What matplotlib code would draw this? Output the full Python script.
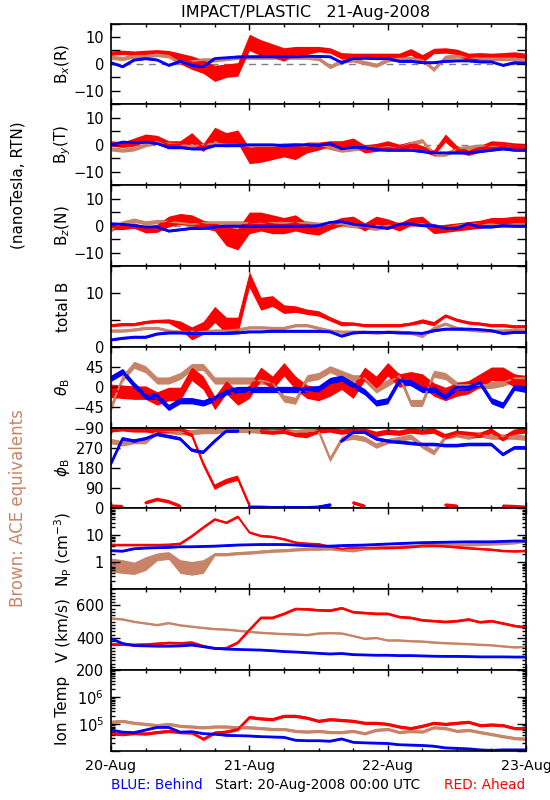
import numpy as np
import matplotlib
matplotlib.use('Agg')
import matplotlib.pyplot as plt
from matplotlib.ticker import MultipleLocator, FuncFormatter, LogLocator, NullFormatter

nan = np.nan

# horas desde 20-Aug-2008 00:00 UTC, amostras a cada 2 h
horas = list(range(0, 73, 2))
dias = ['20-Aug', '21-Aug', '22-Aug', '23-Aug']

# Bx (R)
bx_red = [4.0, 4.3, 4.0, 4.3, 4.5, 4.0, 2.0, 0.5, -1.0, -3.5, -2.5, -2.0, 8.0, 6.0, 5.0, 3.5, 5.0, 5.0, 5.5,
          5.0, 3.0, 3.0, 3.0, 3.0, 3.0, 3.0, 4.5, 2.0, 4.8, 5.0, 4.5, 2.5, 3.0, 3.0, 3.0, 3.5, 3.0]
bx_red_sp = [0.8, 0.8, 0.8, 0.8, 0.8, 1.0, 2.0, 2.5, 2.5, 3.0, 2.5, 2.5, 3.0, 3.0, 2.5, 2.5, 1.5, 1.5, 1.0,
             1.0, 1.2, 1.0, 1.0, 1.0, 1.0, 1.0, 1.2, 1.5, 1.0, 1.0, 1.0, 1.5, 1.2, 1.0, 1.2, 1.0, 1.0]
bx_brown = [2.5, 2.0, 3.0, 3.0, 3.5, 3.0, 0.5, 1.0, 1.5, 1.5, 2.0, 2.5, 2.5, 2.5, 2.5, 2.5, 2.5, 2.5, 2.0,
            -1.0, 1.0, 1.5, 0.5, -0.5, 1.5, 2.0, 2.0, 1.5, -2.0, 2.5, 3.0, 2.5, 2.0, 2.0, 2.0, 2.0, 1.5]
bx_blue = [0.5, -1.0, 1.5, 2.0, 1.5, -0.5, 1.0, -0.5, -1.0, 2.0, 2.3, 2.6, 2.7, 2.7, 2.7, 2.7, 2.7, 2.8, 2.8,
           2.7, 0.5, 2.0, 2.2, 2.0, 2.0, 1.0, 1.0, 0.5, 0.5, 1.0, 1.2, 1.2, 0.8, 0.8, -0.5, 0.5, 0.3]

# By (T)
by_red = [0.5, 0.0, 1.0, 2.5, 2.0, 0.0, 0.0, 2.5, -1.0, 4.0, 2.0, 3.0, -4.0, -3.5, -3.0, -2.0, -3.0, -1.0, -0.5,
          0.5, 0.0, 1.0, -1.5, -1.0, 0.0, -1.0, 0.0, -1.5, -3.0, 2.5, -1.5, -3.0, -1.5, 0.0, 0.0, -0.5, -0.5]
by_red_sp = [1.0, 1.0, 1.5, 1.5, 1.5, 1.5, 1.5, 2.0, 1.5, 2.5, 2.5, 2.5, 3.0, 3.0, 2.5, 2.5, 2.5, 2.0, 1.5,
             1.0, 1.5, 1.5, 1.5, 1.5, 1.5, 1.2, 1.2, 1.2, 1.0, 1.5, 1.2, 1.0, 1.2, 1.5, 1.2, 1.2, 1.0]
by_brown = [-1.5, -2.0, -1.5, 0.0, 1.0, 0.5, 0.0, -0.5, 0.0, 0.5, 0.0, 0.0, -0.5, -0.5, -0.5, 0.0, 0.0, -0.5, 0.0,
            -1.0, -2.0, -1.5, -1.0, -1.0, -0.5, -1.0, 0.5, 1.5, -3.5, -3.5, -1.5, -1.0, -0.5, -0.5, 0.0, -0.5, -0.5]
by_blue = [0.0, 1.0, 0.8, 1.0, 0.5, -1.0, -1.0, -1.5, -1.5, -0.3, -0.3, -0.2, 0.0, 0.0, 0.0, -0.3, 0.0, 0.0, -0.3,
           0.5, -1.5, -1.0, -1.0, -1.8, -2.0, -2.0, -2.0, -2.5, -3.0, -3.0, -3.0, -3.0, -2.5, -2.0, -1.5, -2.0, -2.0]

# Bz (N)
bz_red = [-0.5, -0.5, 0.0, -1.5, -1.0, 1.5, 2.5, 2.0, 0.5, -0.5, -4.0, -5.0, 1.0, 1.5, 0.5, 0.0, 1.0, -1.0, -2.0,
          0.0, 1.5, 2.0, -0.5, 2.0, 1.0, -0.5, 1.5, 2.0, -1.5, -1.0, -0.5, 0.0, 0.5, 1.5, 1.5, 2.0, 2.0]
bz_red_sp = [1.0, 1.0, 1.0, 1.2, 1.5, 2.0, 2.0, 2.0, 1.5, 1.5, 3.5, 4.0, 4.0, 3.5, 3.5, 3.0, 3.0, 2.0, 1.5,
             1.5, 1.5, 1.5, 1.5, 1.5, 1.5, 1.5, 1.5, 1.5, 1.5, 1.5, 1.5, 1.5, 1.5, 1.5, 1.5, 1.5, 1.5]
bz_brown = [-1.5, 1.0, 2.0, 1.0, 1.5, 1.5, 1.0, 0.5, 1.0, 1.0, 1.0, 1.0, 1.0, 1.0, 1.0, 1.0, 1.0, 1.0, 0.5,
            0.5, 0.5, 0.0, -0.5, -1.0, 0.0, 0.5, 0.5, 0.5, 0.0, -1.0, 0.0, 0.5, 0.5, 0.5, 0.0, 0.5, 0.5]
bz_blue = [0.7, 0.5, 0.0, -0.5, -0.5, -2.0, -1.5, -1.0, -1.0, -0.5, -0.2, -0.2, -0.2, -0.2, -0.2, -0.2, -0.2, -0.2,
           0.0, 1.2, 1.5, 0.5, 0.0, -0.5, -1.0, 0.5, 0.7, 0.0, 0.0, -1.0, -1.0, 0.7, -0.5, -0.5, 0.0, -0.2, -0.2]

# total B
bt_red = [4.0, 4.2, 4.2, 4.6, 4.8, 4.8, 4.0, 2.5, 3.5, 6.0, 4.0, 4.0, 12.5, 8.0, 8.5, 7.0, 7.0, 6.5, 6.2,
          5.2, 4.3, 4.3, 4.0, 4.0, 4.0, 4.0, 4.3, 4.8, 4.3, 5.8, 5.0, 4.5, 4.3, 4.0, 4.0, 3.8, 3.8]
bt_red_sp = [0.3, 0.3, 0.3, 0.3, 0.3, 0.4, 0.8, 1.2, 1.2, 1.5, 1.5, 1.5, 1.5, 1.2, 1.0, 0.8, 0.6, 0.5, 0.5,
             0.4, 0.4, 0.3, 0.3, 0.3, 0.3, 0.3, 0.3, 0.4, 0.4, 0.3, 0.3, 0.3, 0.3, 0.3, 0.3, 0.3, 0.3]
bt_brown = [3.0, 3.0, 3.2, 3.5, 3.5, 3.0, 2.8, 2.8, 2.8, 3.0, 3.0, 3.2, 3.6, 3.6, 3.5, 3.5, 4.0, 4.0, 3.5,
            3.0, 2.8, 2.8, 2.8, 2.6, 2.8, 2.8, 2.6, 2.0, 3.5, 4.3, 3.5, 3.2, 3.0, 3.0, 3.0, 3.2, 3.0]
bt_blue = [1.3, 1.6, 1.8, 1.8, 2.4, 2.6, 2.6, 2.5, 2.5, 2.5, 2.5, 2.6, 2.8, 2.8, 2.9, 2.9, 2.9, 2.9, 2.9,
           2.8, 2.0, 2.6, 2.7, 2.7, 2.7, 2.6, 2.6, 2.5, 3.0, 3.3, 3.3, 3.3, 3.2, 3.0, 2.5, 2.7, 2.7]

# theta_B (graus)
th_red = [-8, -10, -12, -12, -25, -15, -15, 30, 10, -35, 0, -25, -10, 30, 10, 40, 10, -10, -15,
          -5, 10, -10, 30, 10, 40, 15, 20, 15, -5, -15, -5, 0, 15, 30, 30, 15, 10]
th_brown = [-45, 20, 50, 40, 15, 15, 25, 45, 45, 15, 15, 15, 15, 15, 10, -25, -30, 20, 25,
            40, 30, 20, 20, -5, 10, 25, -35, -35, 30, 25, 5, 5, 5, 5, 10, 20, 20]
th_blue = [20, 35, 5, -20, -20, -45, -30, -30, -35, -25, -10, -5, -5, -5, -5, -5, -5, -5, -3,
           15, 20, 5, -10, -35, -30, 15, 10, -5, -5, -20, 0, 0, 10, -30, -40, 0, -5]

# phi_B (graus)
ph_red = [350, 355, 350, 350, 345, 350, 350, 330, 200, 95, 120, 135, 15, 345, 340, 345, 330, 325, 345,
          350, 340, 345, 345, 330, 340, 335, 345, 340, 345, 320, 335, 330, 325, 345, 310, 340, 345]
ph_red_baixo = [10, 8, nan, 25, 40, 30, 10, nan, nan, nan, nan, nan, nan, nan, nan, nan, nan, nan, nan,
                20, nan, 25, 10, nan, nan, nan, nan, 5, nan, 15, 10, nan, nan, nan, 10, 8, 5]
ph_brown = [300, 290, 300, 300, 345, 345, 340, 340, 345, 345, 350, 350, 350, 345, 345, 345, 340, 345, 345,
            220, 310, 320, 310, 280, 300, 310, 320, 280, 250, 320, 330, 320, 330, 320, 320, 320, 315]
ph_blue = [200, 310, 300, 310, 330, 320, 310, 260, 250, 300, 345, 345, 5, 5, 3, 3, 3, 3, 5,
           15, 300, 340, 340, 310, 300, 295, 290, 285, 285, 280, 280, 285, 285, 285, 240, 270, 270]

# Np (cm^-3)
np_red = [4.5, 4.5, 4.5, 4.5, 4.5, 4.6, 5.0, 9.5, 20, 40, 30, 50, 13, 9.7, 9.0, 7.3, 5.5, 5.0, 4.8,
          3.8, 3.2, 3.5, 3.5, 3.5, 3.5, 3.6, 3.8, 4.2, 4.2, 4.0, 3.7, 3.4, 3.2, 3.0, 2.7, 2.6, 2.7]
np_brown = [0.8, 0.7, 0.6, 0.9, 1.6, 1.8, 0.7, 0.6, 0.7, 2.0, 2.0, 2.2, 2.3, 2.5, 2.7, 2.8, 3.0, 3.2, 3.2,
            3.3, 3.0, 2.8, 3.3, 3.5, 3.7, 3.8, 4.0, 4.2, 4.4, 4.5, 4.5, 4.6, 4.8, 5.0, 5.2, 5.5, 6.5]
np_brown_sp = [1.8, 1.8, 1.7, 1.8, 1.4, 1.4, 1.8, 1.8, 1.8, 1.15, 1.15, 1.15, 1.15, 1.15, 1.15, 1.15, 1.15,
               1.15, 1.15, 1.15, 1.15, 1.15, 1.15, 1.15, 1.15, 1.15, 1.15, 1.15, 1.15, 1.15, 1.15, 1.15,
               1.15, 1.15, 1.15, 1.15, 1.15]
np_blue = [2.7, 2.6, 3.2, 3.4, 3.5, 3.6, 3.8, 3.8, 3.9, 4.0, 4.2, 4.4, 4.5, 4.6, 4.6, 4.6, 4.4, 4.2, 4.0,
           4.0, 4.2, 4.3, 4.4, 4.6, 4.8, 5.0, 5.2, 5.4, 5.5, 5.6, 5.7, 5.8, 5.8, 5.8, 6.0, 6.2, 6.2]

# V (km/s)
v_red = [360, 360, 358, 360, 365, 370, 368, 372, 350, 335, 338, 372, 450, 525, 525, 550, 580, 578, 572,
         570, 585, 560, 555, 550, 550, 530, 525, 510, 505, 500, 505, 515, 498, 505, 490, 475, 465]
v_brown = [520, 515, 500, 490, 480, 492, 478, 470, 462, 455, 452, 445, 438, 432, 428, 424, 422, 418, 428,
           430, 428, 412, 395, 400, 385, 385, 380, 378, 372, 368, 365, 362, 358, 355, 348, 342, 345]
v_blue = [395, 365, 352, 350, 348, 348, 350, 355, 345, 335, 330, 328, 326, 324, 320, 315, 312, 308, 304,
          300, 303, 296, 294, 292, 292, 290, 290, 288, 286, 285, 285, 284, 282, 282, 282, 281, 281]

# temperatura ionica (K)
t_red = [4.5e4, 4.2e4, 4.6e4, 4.4e4, 5.0e4, 5.5e4, 5.0e4, 4.8e4, 2.8e4, 4.8e4, 5.2e4, 6.5e4, 1.8e5, 1.6e5,
         1.5e5, 2.0e5, 2.0e5, 1.7e5, 1.3e5, 1.5e5, 1.4e5, 1.3e5, 1.1e5, 1.1e5, 1.0e5, 8.0e4, 7.0e4, 8.5e4,
         1.1e5, 1.0e5, 1.1e5, 1.2e5, 9.0e4, 9.5e4, 9.0e4, 7.0e4, 7.0e4]
t_brown = [1.2e5, 1.3e5, 1.1e5, 1.0e5, 9.0e4, 1.0e5, 8.5e4, 8.0e4, 7.5e4, 8.0e4, 8.0e4, 7.5e4, 7.5e4, 7.0e4,
           6.5e4, 6.5e4, 5.5e4, 5.2e4, 5.5e4, 5.0e4, 5.0e4, 5.5e4, 4.5e4, 6.0e4, 6.5e4, 5.0e4, 5.5e4, 5.2e4,
           7.5e4, 7.0e4, 5.5e4, 6.0e4, 5.0e4, 4.2e4, 3.5e4, 3.0e4, 2.8e4]
t_blue = [6.0e4, 5.0e4, 4.8e4, 6.0e4, 7.5e4, 7.5e4, 5.0e4, 5.2e4, 4.4e4, 4.2e4, 3.8e4, 3.7e4, 3.6e4, 3.4e4,
          3.3e4, 3.2e4, 2.5e4, 2.4e4, 2.4e4, 2.3e4, 2.8e4, 2.1e4, 2.0e4, 1.95e4, 1.9e4, 1.7e4, 1.65e4, 1.6e4,
          1.5e4, 1.3e4, 1.25e4, 1.2e4, 1.1e4, 1.05e4, 1.1e4, 1.1e4, 1.1e4]

RED = '#ff0000'
BLUE = '#0000ff'
BROWN = '#c88468'


def desenha(ax, y, espalhamento, cor, log=False, wrap=False, lw=1.4):
    t = np.array(horas, dtype=float)
    y = np.array(y, dtype=float)
    sp = np.broadcast_to(np.asarray(espalhamento, dtype=float), y.shape)
    if log:
        lo, hi = y / sp, y * sp
    else:
        lo, hi = y - sp, y + sp
    if wrap:
        # quebra a linha quando o angulo passa de 360 para 0
        cortes = np.where(np.abs(np.diff(y)) > 180)[0] + 1
        meio = (t[cortes - 1] + t[cortes]) / 2
        t = np.insert(t, cortes, meio)
        y = np.insert(y, cortes, nan)
        lo = np.insert(lo, cortes, nan)
        hi = np.insert(hi, cortes, nan)
    ax.fill_between(t, lo, hi, color=cor, lw=0)
    ax.plot(t, y, color=cor, lw=lw)


def rotulos(valores):
    def f(v, pos):
        for r in valores:
            if abs(v - r) < 1e-6:
                return f'{int(r)}'.replace('-', '\u2212')
        return ''
    return FuncFormatter(f)


fig, axs = plt.subplots(9, 1, figsize=(5.5, 8), dpi=100, sharex=True)
plt.subplots_adjust(left=0.2018, right=0.9564, top=0.9706, bottom=0.0613, hspace=0)

# paineis B (R, T, N)
for ax, r, rs, b, bl in [(axs[0], bx_red, bx_red_sp, bx_brown, bx_blue),
                         (axs[1], by_red, by_red_sp, by_brown, by_blue),
                         (axs[2], bz_red, bz_red_sp, bz_brown, bz_blue)]:
    ax.axhline(0, color='#808080', ls=(0, (5, 4)), lw=1, zorder=0)
    desenha(ax, b, 0.8, BROWN)
    desenha(ax, r, rs, RED)
    desenha(ax, bl, 0.4, BLUE, lw=2.0)
    ax.set_ylim(-15, 15)
    ax.yaxis.set_major_locator(MultipleLocator(5))
    ax.yaxis.set_major_formatter(rotulos([-10, 0, 10]))

ax = axs[3]
desenha(ax, bt_brown, 0.3, BROWN)
desenha(ax, bt_red, bt_red_sp, RED)
desenha(ax, bt_blue, 0.2, BLUE, lw=2.0)
ax.set_ylim(0, 15)
ax.yaxis.set_major_locator(MultipleLocator(5))
ax.yaxis.set_major_formatter(rotulos([0, 10]))

ax = axs[4]
desenha(ax, th_brown, 8, BROWN)
desenha(ax, th_red, 15, RED)
desenha(ax, th_blue, 7, BLUE, lw=2.0)
ax.set_ylim(-90, 90)
ax.yaxis.set_major_locator(MultipleLocator(45))
ax.yaxis.set_major_formatter(rotulos([-90, -45, 0, 45]))

ax = axs[5]
desenha(ax, ph_brown, 12, BROWN, wrap=True)
desenha(ax, ph_red, 12, RED, wrap=True)
desenha(ax, ph_red_baixo, 8, RED)
desenha(ax, ph_blue, 8, BLUE, wrap=True, lw=2.0)
ax.set_ylim(0, 360)
ax.yaxis.set_major_locator(MultipleLocator(90))
ax.yaxis.set_major_formatter(rotulos([0, 90, 180, 270]))

ax = axs[6]
ax.set_yscale('log')
desenha(ax, np_brown, np_brown_sp, BROWN, log=True)
desenha(ax, np_red, 1.1, RED, log=True)
desenha(ax, np_blue, 1.05, BLUE, log=True, lw=2.0)
ax.set_ylim(0.1, 100)
ax.yaxis.set_major_locator(LogLocator(base=10, numticks=10))
ax.yaxis.set_minor_locator(LogLocator(base=10, subs=np.arange(2, 10), numticks=10))
ax.yaxis.set_major_formatter(rotulos([1, 10]))
ax.yaxis.set_minor_formatter(NullFormatter())

ax = axs[7]
desenha(ax, v_brown, 6, BROWN)
desenha(ax, v_red, 8, RED)
desenha(ax, v_blue, 2, BLUE, lw=2.0)
ax.set_ylim(200, 700)
ax.yaxis.set_major_locator(MultipleLocator(200))
ax.yaxis.set_minor_locator(MultipleLocator(20))
ax.yaxis.set_major_formatter(rotulos([200, 400, 600]))

ax = axs[8]
ax.set_yscale('log')
desenha(ax, t_brown, 1.15, BROWN, log=True)
desenha(ax, t_red, 1.15, RED, log=True)
desenha(ax, t_blue, 1.05, BLUE, log=True, lw=2.0)
ax.set_ylim(1e4, 1e7)
ax.yaxis.set_major_locator(LogLocator(base=10, numticks=10))
ax.yaxis.set_minor_locator(LogLocator(base=10, subs=np.arange(2, 10), numticks=10))
ax.yaxis.set_major_formatter(FuncFormatter(
    lambda v, pos: {5: r'$10^5$', 6: r'$10^6$'}.get(int(round(np.log10(v))), '')))
ax.yaxis.set_minor_formatter(NullFormatter())

for ax in axs:
    ax.set_xlim(0, 72)
    ax.tick_params(direction='in', top=True, right=True, which='both', labelsize=10.5, width=1)
    ax.tick_params(axis='y', which='major', length=6.3, pad=5)
    ax.tick_params(axis='y', which='minor', length=3)
    ax.tick_params(axis='x', which='major', length=4)
    ax.tick_params(axis='x', which='minor', length=2.5)
    for s in ax.spines.values():
        s.set_linewidth(1.2)

axs[-1].xaxis.set_major_locator(MultipleLocator(24))
axs[-1].xaxis.set_minor_locator(MultipleLocator(6))
axs[-1].set_xticks([0, 24, 48, 72], dias)
axs[-1].tick_params(axis='x', which='major', pad=6, labelsize=10.3)

# nomes dos paineis
nomes = [r'B$_x$(R)', r'B$_y$(T)', r'B$_z$(N)', 'total B', r'$\theta_{\rm B}$', r'$\phi_{\rm B}$',
         r'N$_{\rm P}$ (cm$^{-3}$)', 'V (km/s)', 'Ion Temp']
for ax, nome in zip(axs, nomes):
    p = ax.get_position()
    fig.text(63 / 550, (p.y0 + p.y1) / 2, nome, rotation=90, ha='center', va='center', fontsize=11)

fig.text(306 / 550, 1 - 12 / 800, 'IMPACT/PLASTIC   21-Aug-2008', ha='center', va='center', fontsize=11.5)
fig.text(18 / 550, 1 - 185 / 800, '(nanoTesla, RTN)', rotation=90, ha='center', va='center', fontsize=11)
fig.text(18 / 550, 1 - 508 / 800, 'Brown: ACE equivalents', rotation=90, ha='center', va='center',
         fontsize=12, color=BROWN)
fig.text(111 / 550, 1 - 785 / 800, 'BLUE: Behind', color=BLUE, ha='left', va='center', fontsize=9.8)
fig.text(318 / 550, 1 - 785 / 800, 'Start: 20-Aug-2008 00:00 UTC', ha='center', va='center', fontsize=9.8)
fig.text(525 / 550, 1 - 785 / 800, 'RED: Ahead', color=RED, ha='right', va='center', fontsize=9.8)

fig.savefig('out.png', dpi=100)
